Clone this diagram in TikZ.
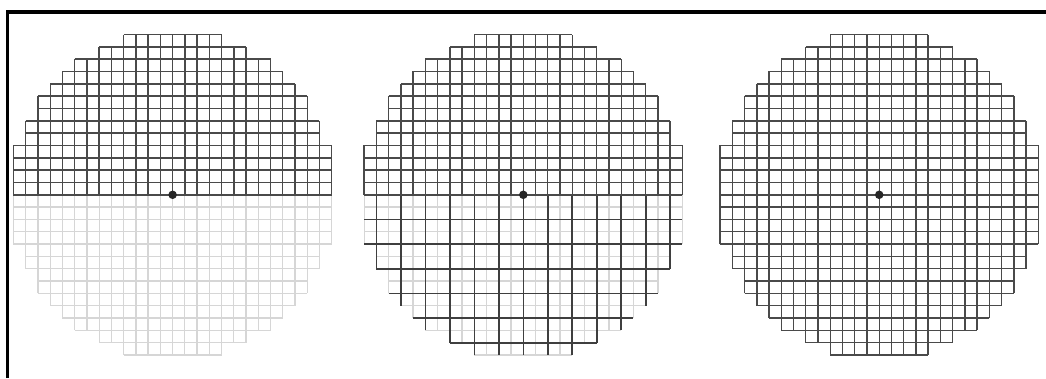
\documentclass[tikz,border=0pt]{standalone}
\usepackage{xcolor}
\usepackage{tikz}
\definecolor{gridink}{HTML}{4A4A4A}
\definecolor{gridfaint}{HTML}{D6D6D6}
% half-extent of the disk at each line position (in cells)
\newcommand{\diskrows}{0/13,1/13,2/13,3/13,4/13,5/12,6/12,7/11,8/11,9/10,10/9,11/8,12/6,13/4}
\newcommand{\diskeven}{0/13,2/13,4/13,6/12,8/11,10/9,12/6}

\begin{document}
\begin{tikzpicture}[
    x=1pt, y=1pt,
    fine/.style={line width=1.4pt, gridink},
    faint/.style={line width=1.3pt, gridfaint},
    coarse/.style={line width=1.6pt, gridink!85!black},
    frame/.style={line width=3.3pt, black},
    dot/.style={circle, fill=black!85, inner sep=0pt, minimum size=8.5pt},
    cellunit/.style={x=12.24pt, y=12.33pt}
  ]
  \useasboundingbox (0,0) rectangle (1046,378);

  % Frame (top and left)
  \draw[frame] (7.5,0) -- (7.5,366) -- (1046,366);

  % Grid centres
  \coordinate (c1) at (172.6,183.2);
  \coordinate (c2) at (523.3,183.2);
  \coordinate (c3) at (879.2,183.2);

  % Left: upper half kept, lower half dropped
  \begin{scope}[shift={(c1)}, cellunit]
    \foreach \n/\l in \diskrows {
      \draw[faint] (-\l,-\n) -- (\l,-\n);
      \draw[faint] (\n,0) -- (\n,-\l) (-\n,0) -- (-\n,-\l);
    }
    \foreach \n/\l in \diskrows {
      \draw[fine] (-\l,\n) -- (\l,\n);
      \draw[fine] (\n,0) -- (\n,\l) (-\n,0) -- (-\n,\l);
    }
  \end{scope}

  % Middle: upper half fine, lower half binned 2x2
  \begin{scope}[shift={(c2)}, cellunit]
    \foreach \n/\l in \diskrows {
      \draw[faint] (-\l,-\n) -- (\l,-\n);
      \draw[faint] (\n,0) -- (\n,-\l) (-\n,0) -- (-\n,-\l);
    }
    \foreach \n/\l in \diskeven {
      \draw[coarse] (-\l,-\n) -- (\l,-\n);
      \draw[coarse] (\n,0) -- (\n,-\l) (-\n,0) -- (-\n,-\l);
    }
    \foreach \n/\l in \diskrows {
      \draw[fine] (-\l,\n) -- (\l,\n);
      \draw[fine] (\n,0) -- (\n,\l) (-\n,0) -- (-\n,\l);
    }
  \end{scope}

  % Right: full grid
  \begin{scope}[shift={(c3)}, cellunit]
    \foreach \n/\l in \diskrows {
      \draw[fine] (-\l,\n) -- (\l,\n) (-\l,-\n) -- (\l,-\n);
      \draw[fine] (\n,-\l) -- (\n,\l) (-\n,-\l) -- (-\n,\l);
    }
  \end{scope}

  % Centre points
  \node[dot] (d1) at (c1) {};
  \node[dot] (d2) at (c2) {};
  \node[dot] (d3) at (c3) {};
\end{tikzpicture}
\end{document}
